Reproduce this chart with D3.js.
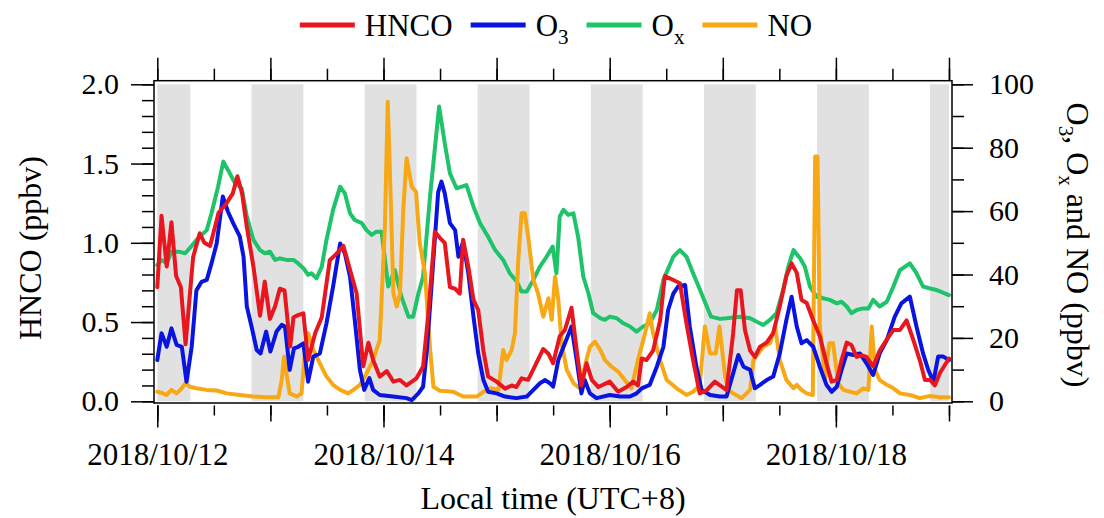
<!DOCTYPE html>
<html><head><meta charset="utf-8">
<script src="https://cdn.jsdelivr.net/npm/d3@7/dist/d3.min.js"></script>
<style>
html,body{margin:0;padding:0;background:#fff;}
svg text{font-family:"Liberation Serif","Times New Roman",serif;fill:#000;}
</style></head>
<body>
<svg id="chart" width="1104" height="518"></svg>
<script>
// ---------- DATA (hours since 2018/10/12 00:00 local time) ----------
const nightStart = [0, 20, 44, 68, 92, 116, 140, 164];
const nightEnd   = [7, 31, 55, 79, 103, 127, 151, 168];

const hncoHours = [0,0.9,2,3,4,5,6,7.6,9,10,11.2,13,14.7,16,17,18,19,20.4,21.8,22.8,23.9,25,26,27,28.2,28.9,30,31,32,33.5,34.9,36.6,38,39.5,40.9,42.3,43.7,44.8,45.8,47.2,48.7,50.1,51.5,52.9,55,56.4,57.5,58.9,60,61,62.1,63.2,64.2,64.9,66,67.1,68.1,69.2,70.2,72,73.8,75.2,76.2,77.3,78.7,80.1,81.9,83,84,85.4,86.5,87.9,89,90,91.1,92.2,93.6,96,97.8,99.6,101,102,102.8,103.8,105.2,106.7,107.7,109.5,110.9,112.3,113.7,115.1,116.6,118.3,119.4,120.8,122.2,123,123.8,124.7,125.8,126.8,127.9,129.3,130.7,132.1,133.5,134.6,135.7,136.7,137.8,139.2,140.6,142,143.1,144.2,145.2,146.3,147.3,148.4,149.5,150.5,151.9,153.3,154.8,156.2,157.6,159,160.4,161.8,162.9,164,165,166.1,168];
const hncoValues = [0.72,1.17,0.85,1.13,0.79,0.72,0.36,0.91,1.06,1.0,0.98,1.19,1.25,1.31,1.42,1.31,1.10,0.85,0.54,0.755,0.52,0.60,0.71,0.70,0.345,0.53,0.545,0.555,0.26,0.43,0.53,0.89,0.93,0.98,0.83,0.68,0.22,0.37,0.26,0.156,0.19,0.124,0.135,0.10,0.145,0.22,0.55,1.07,1.03,1.0,0.72,0.71,0.68,1.02,0.85,0.64,0.576,0.32,0.156,0.124,0.08,0.10,0.09,0.145,0.135,0.22,0.33,0.30,0.24,0.41,0.45,0.59,0.32,0.10,0.24,0.135,0.09,0.124,0.06,0.09,0.124,0.10,0.27,0.26,0.32,0.51,0.79,0.765,0.745,0.49,0.26,0.05,0.07,0.124,0.10,0.07,0.43,0.70,0.70,0.45,0.32,0.28,0.345,0.37,0.43,0.60,0.79,0.87,0.81,0.64,0.62,0.51,0.41,0.24,0.124,0.135,0.26,0.37,0.355,0.28,0.29,0.28,0.22,0.32,0.39,0.45,0.45,0.51,0.39,0.26,0.135,0.135,0.10,0.18,0.27];

const o3Hours = [0,0.9,2,3,4.1,5.2,6.2,7.3,8.3,9.4,10.5,11.5,12.6,13.9,15,16.1,17.5,18.3,19,20,21.1,21.9,23.1,24,25.3,26.4,27.1,28.1,29,29.9,31,32,33.1,34.5,35.9,37.3,38.8,39.8,40.9,41.9,43,43.9,45,45.8,47.2,50,52.9,54,55.4,56.4,57.2,58.6,59.6,60.3,61,62.1,63.2,63.9,64.9,66,67.1,68.1,69.2,70.2,72,73.8,76.2,78.4,79.8,81.2,82.3,83.3,84,85.1,86.5,87.2,87.9,89,90,90.7,91.8,93.2,96,98.2,100.3,101.7,102.8,104.5,106,107.4,108.4,109.5,110.5,112,113,114.4,115.5,117.3,119.4,120.8,122.2,123.3,124.4,125.8,126.8,127.9,129.3,130.7,132.1,133.5,134.6,135.7,136.7,137.8,139.2,140.6,142,143.1,144.2,145.2,146.3,147.7,149.1,150.5,151.9,153.3,154.8,156.5,157.9,159.7,161.1,162.5,163.6,164.7,165.7,166.8,168];
const o3Values = [13.0,21.5,17.2,23,17.8,17.2,6.2,17.2,35,37.7,38.3,43.5,49.8,64.6,59.8,56.2,52,45.6,29.9,23.6,16.2,15.1,22,15.7,22,24.1,23.6,9.9,16.7,17.2,18.3,6.2,14.1,15.1,24.6,36.2,49.8,46.7,39.3,25.7,9.9,3.6,7.3,3.6,2.0,1.5,1.0,0.4,2.5,4.6,16,45,66,69.3,65.6,56.2,54,45.6,50.4,40.4,26.7,15.1,6.7,3,2.5,1.5,1,1.5,3.6,5.7,6.7,5.7,4.6,13,18.3,20.9,23.6,13,2.5,6.7,2.5,1,2,1.5,1.5,2.5,4.1,5.2,10.9,17.2,28.8,34,36.2,36.7,23.6,10.9,3.6,2,1.5,1.5,8.8,14.6,10.9,9.9,4.1,5.2,6.7,7.8,15.1,25.7,33,23.6,18.3,19.3,17.2,10.9,5.2,3,4.6,9.9,15.1,14.6,15.1,12,8.3,15.1,19.3,26.7,30.9,33,23.6,15.1,9.9,6.2,14.1,14.1,13];

const oxHours = [0,0.9,2,3,4.5,5.9,6.9,8.3,9.4,10.5,11.5,12.9,14,15,16.5,17.9,19,20.4,21.8,22.8,23.9,25,26,27.4,28.9,29.9,31,32,32.7,33.8,34.9,35.9,37.3,38.8,39.8,40.9,41.9,43.4,44.4,45.5,46.5,47.6,49,50.4,51.8,53.3,54.3,55.4,56.4,57.9,59.8,61,62.1,63.5,64.6,65.6,67.1,68.5,70.2,71.7,73.4,74.8,76.3,77.3,78.4,79.8,81.2,82.6,83.9,84.7,85.4,86.2,87.2,88.3,89.3,90.4,91.5,92.5,94,95,96,97.5,98.9,100.3,101.7,103.1,104.5,106,107.4,109.5,110.9,112.3,113.7,115.2,116.3,117.5,119.4,120.8,123.6,125.8,127.2,128.6,130,131.4,132.8,133.9,135,136.4,137.4,138.5,139.9,141.3,142.7,144.2,145.2,146.3,147.3,148.4,149.8,150.9,151.9,153.3,154.8,156.2,157.6,159.7,161.1,162.5,164,165.4,168];
const oxValues = [43,44.6,43.5,47.2,47.2,46.7,48.3,50.9,52.5,54,59.3,67.7,75.6,73,68.8,67.2,58.3,50.9,47.7,46.7,47.2,44.6,45.1,44.6,44.6,43.5,42,39.9,40.4,38.8,42.5,50.9,60.4,67.7,65.6,59.3,57.2,56.2,54,52.5,53.5,53.5,36.2,41.4,33,26.7,26.7,34,39.3,65,93,81.4,71.9,67.2,67.7,68.2,61.4,56.2,51.9,47.7,44.6,40.4,37.7,34.6,34.6,38.3,42.5,45.6,48.8,40.4,58.3,60.4,58.8,59.3,51.9,39.3,34,27.8,26.2,25.7,26.7,26.2,24.6,23.6,22,23.6,24.6,28.8,38.3,45.6,47.7,45.6,40.4,35,31,26.7,26,26.2,26.7,26.2,25.1,24.1,25.7,27.8,35.1,42.5,47.7,45.1,42.5,36.2,33,32.5,32,30.9,31.4,29.9,27.8,28.8,29.3,29.3,32,29.9,31.4,36.2,41.4,43.5,40.4,36.2,35.6,35.1,33.5];

const noHours = [0,0.9,2,3,4.1,5.2,6,6.9,8.3,10.5,12.6,14.7,17.5,20.4,23.2,25.7,26.4,26.9,27.4,28.1,29.6,30.6,31.3,32,33.1,34.5,35.9,37.3,38.8,40.5,41.6,43,44.4,45.8,47.2,48.3,48.9,49.5,50.1,50.8,51.5,52.2,52.9,54,54.9,55.7,56.8,57.9,58.6,60,62.8,64.9,67.8,69.2,70.6,72.4,73.4,74.1,75.2,75.9,76.6,77.3,78,78.7,79.8,80.8,81.9,83,83.7,84.4,85.1,85.8,86.9,88.3,89.7,90.7,91.8,92.9,94,95,96.4,97.8,99.2,100.6,102,103.5,104.5,105.2,106.7,108.1,110.2,112.3,113.7,115.1,116.2,117.3,118.5,119.3,120.5,121.2,122.2,124,125.8,126.5,127.5,128.6,130,131.1,132.1,133.5,135,135.7,136.7,137.8,139.1,139.6,140.1,140.6,141.7,142.6,143.4,144.5,145.6,147,148.4,149.8,150.9,151.6,152.3,153.3,154.8,156.2,157.6,159.7,161.8,164,166.1,168];
const noValues = [3,2.7,2,3.6,2.5,4.1,5.7,4.6,4.1,3.6,3.4,2.5,2,1.5,1.3,1.3,6.7,14.1,8.8,2.5,1.5,2.5,15.1,21.5,16.2,12,7.8,5.2,3.6,2.5,3.6,5.2,8.8,13,19.3,55,94.5,65.6,34,29.9,34,60.4,76.7,67.7,66.1,49.8,40.4,16.2,4.6,3.3,3,1.5,1.5,3,4.1,3.6,16.2,13,16.2,21.5,44.6,59.3,59.3,51.9,38.3,34,26.7,32.5,25.7,39.3,32,18.3,9.9,5.7,4.1,10.9,17.2,18.8,16.2,13,10.9,9.4,6.7,4.1,13,21.5,27.8,21.5,13,6.7,4.1,2,3,5,23.6,15.1,15.1,23.6,7.8,3.6,2.5,1,3.6,13,15.1,17.2,18.3,23.6,13,6.7,4.1,5.2,3.6,2.5,2,77.2,77.2,23.6,6.7,18.3,18.3,5.7,3.6,3,2.5,4.1,3.6,23.6,9.9,6.7,5.2,4.1,2.5,2,1,1.7,1.3,1.3];

const leftTicks = [0, 0.5, 1.0, 1.5, 2.0];
const rightTicks = [0, 20, 40, 60, 80, 100];
const dateLabels = ["2018/10/12", "2018/10/14", "2018/10/16", "2018/10/18"];
const legendNames = [["HNCO",""],["O","3"],["O","x"],["NO",""]];
const seriesColors = ["#e8161e", "#0a14e0", "#1ec36a", "#f8a814"];

// ---------- LAYOUT ----------
const svg = d3.select("#chart");
const L = 154, R = 952, T = 80.7, B = 403;
const t0 = new Date(2018, 9, 12, 0, 0, 0);
const hr = h => new Date(t0.getTime() + h * 3600e3);
const x = d3.scaleTime().domain([hr(-0.70), hr(168.64)]).range([L, R]);
const yL = d3.scaleLinear().domain([-0.0107, 2.0227]).range([B, T]);
const yR = d3.scaleLinear().domain([-0.535, 101.135]).range([B, T]);

// night shading
svg.append("g").selectAll("rect").data(nightStart.map((s, i) => [s, nightEnd[i]]))
  .join("rect")
  .attr("x", d => x(hr(d[0]))).attr("width", d => x(hr(d[1])) - x(hr(d[0])))
  .attr("y", yL(2.0)).attr("height", yL(0) - yL(2.0))
  .attr("fill", "#e1e1e1");

// lines
const mk = (hs, vs) => hs.map((h, i) => ({t: hr(h), v: vs[i]}));
const lineL = d3.line().x(d => x(d.t)).y(d => yL(d.v));
const lineR = d3.line().x(d => x(d.t)).y(d => yR(d.v));
const gl = svg.append("g").attr("fill", "none").attr("stroke-width", 4)
  .attr("stroke-linejoin", "round").attr("stroke-linecap", "round");
gl.append("path").attr("d", lineR(mk(oxHours, oxValues))).attr("stroke", seriesColors[2]);
gl.append("path").attr("d", lineR(mk(noHours, noValues))).attr("stroke", seriesColors[3]);
gl.append("path").attr("d", lineR(mk(o3Hours, o3Values))).attr("stroke", seriesColors[1]);
gl.append("path").attr("d", lineL(mk(hncoHours, hncoValues))).attr("stroke", seriesColors[0]);

// frame
svg.append("rect").attr("x", L).attr("y", T).attr("width", R - L).attr("height", B - T)
  .attr("fill", "none").attr("stroke", "#000").attr("stroke-width", 1.5);

function styleAxis(g) {
  g.select(".domain").remove();
  g.selectAll("line").attr("stroke", "#000").attr("stroke-width", 1.5);
  g.selectAll("text").attr("font-size", 30).attr("font-family", "Liberation Serif");
}
// left axis
svg.append("g").attr("transform", `translate(${L},0)`)
  .call(d3.axisLeft(yL).tickValues(d3.range(0, 2.01, 0.1)).tickSize(12).tickFormat(""))
  .call(styleAxis);
svg.append("g").attr("transform", `translate(${L},0)`)
  .call(d3.axisLeft(yL).tickValues(leftTicks).tickSize(23).tickPadding(12).tickFormat(d3.format(".1f")))
  .call(styleAxis);
// right axis
svg.append("g").attr("transform", `translate(${R},0)`)
  .call(d3.axisRight(yR).tickValues(d3.range(0, 101, 10)).tickSize(12).tickFormat(""))
  .call(styleAxis);
svg.append("g").attr("transform", `translate(${R},0)`)
  .call(d3.axisRight(yR).tickValues(rightTicks).tickSize(21).tickPadding(16).tickFormat(d3.format("d")))
  .call(styleAxis);
// top axis
const halfDays = d3.range(0, 15).map(i => hr(i * 12));
const days = d3.range(0, 8).map(i => hr(i * 24));
svg.append("g").attr("transform", `translate(0,${T})`)
  .call(d3.axisTop(x).tickValues(halfDays).tickSize(12).tickFormat("")).call(styleAxis);
svg.append("g").attr("transform", `translate(0,${T})`)
  .call(d3.axisTop(x).tickValues(days).tickSize(23).tickFormat("")).call(styleAxis);
// bottom axis
const BA = 405.5;
svg.append("g").attr("transform", `translate(0,${BA})`)
  .call(d3.axisBottom(x).tickValues(halfDays).tickSize(10).tickFormat("")).call(styleAxis);
svg.append("g").attr("transform", `translate(0,${BA})`)
  .call(d3.axisBottom(x).tickValues(days).tickSize(16).tickFormat("")).call(styleAxis);
const labelDays = dateLabels.map((s, i) => hr(i * 48));
svg.append("g").attr("transform", `translate(0,${BA})`)
  .call(d3.axisBottom(x).tickValues(labelDays).tickSize(22).tickPadding(15)
    .tickFormat((d, i) => dateLabels[i]))
  .call(styleAxis)
  .call(g => g.selectAll("text").attr("font-size", 31));

// axis titles
svg.append("text").attr("x", (L + R) / 2).attr("y", 509).attr("text-anchor", "middle")
  .attr("font-size", 32).text("Local time (UTC+8)");
svg.append("text").attr("transform", "translate(41,248) rotate(-90)").attr("text-anchor", "middle")
  .attr("font-size", 32).text("HNCO (ppbv)");
const rt = svg.append("text").attr("transform", "translate(1067,245) rotate(90)")
  .attr("text-anchor", "middle").attr("font-size", 32);
rt.append("tspan").text("O");
rt.append("tspan").attr("font-size", 21).attr("dy", 8).text("3");
rt.append("tspan").attr("dy", -8).text(", O");
rt.append("tspan").attr("font-size", 21).attr("dy", 8).text("x");
rt.append("tspan").attr("dy", -8).text(" and NO (ppbv)");

// legend
const lg = svg.append("g");
let cx = 0;
legendNames.forEach((nm, i) => {
  const g = lg.append("g");
  g.append("line").attr("x1", cx).attr("x2", cx + 55).attr("y1", 25).attr("y2", 25)
    .attr("stroke", seriesColors[i]).attr("stroke-width", 5);
  const t = g.append("text").attr("x", cx + 65).attr("y", 36).attr("font-size", 31);
  t.append("tspan").text(nm[0]);
  if (nm[1]) t.append("tspan").attr("font-size", 21).attr("dy", 8).text(nm[1]);
  const w = t.node().getComputedTextLength();
  cx = cx + 65 + w + 18;
});
const totalW = cx - 18;
lg.attr("transform", `translate(${556 - totalW / 2},0)`);
</script>
</body></html>
